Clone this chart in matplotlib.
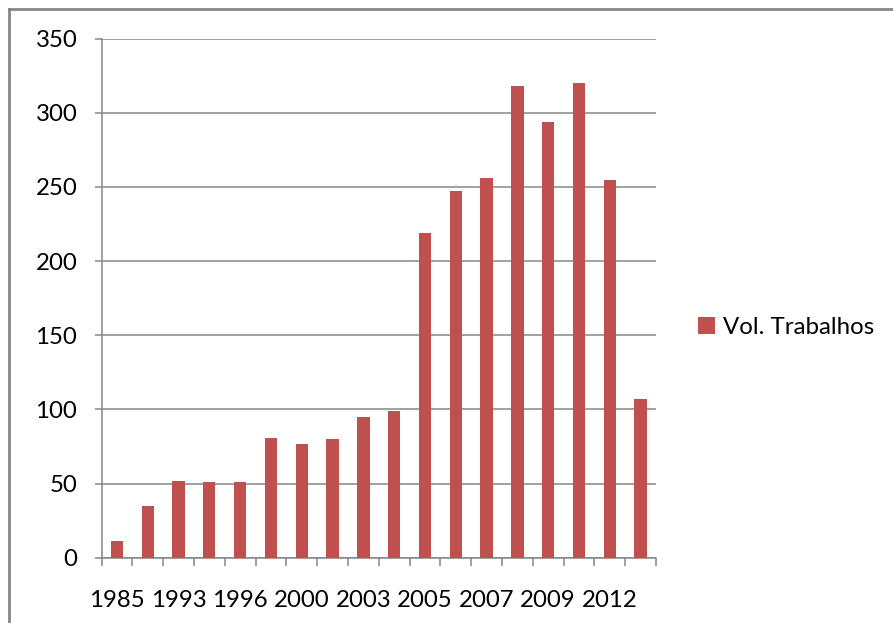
import matplotlib
matplotlib.use("Agg")
import matplotlib.pyplot as plt
from matplotlib.lines import Line2D
import numpy as np

years = ["1985", "1990", "1993", "1995", "1996", "1998", "2000", "2002", "2003",
         "2004", "2005", "2006", "2007", "2008", "2009", "2010", "2012", "2013"]
volumes = [11, 35, 52, 51, 51, 81, 77, 80, 95, 99, 219, 247, 256, 318, 294, 320, 255, 107]
series_name = "Vol. Trabalhos"

BAR_COLOR = "#C0504D"
GRID_COLOR = "#868686"
W, H = 893, 623
FS = 17.3

plt.rcParams["font.family"] = ["Lato", "DejaVu Sans"]

fig = plt.figure(figsize=(W / 100, H / 100), dpi=100)
ax = fig.add_axes([101.5 / W, (H - 557.7) / H, (656 - 101.5) / W, (557.7 - 38.7) / H])

x = np.arange(len(years))
bars = ax.bar(x, volumes, width=0.4, color=BAR_COLOR, label=series_name, zorder=3)

ax.set_xlim(-0.5, len(years) - 0.5)
ax.set_ylim(0, 350)
ax.set_yticks(range(0, 351, 50))
ax.grid(axis="y", color=GRID_COLOR, linewidth=1.1, zorder=0)

# only every other category gets a label, tick marks sit on the boundaries
ax.set_xticks(x[::2])
ax.set_xticklabels(years[::2])
ax.set_xticks(np.arange(-0.5, len(years)), minor=True)
ax.tick_params(axis="x", which="major", length=0, pad=23.5, labelsize=FS)
ax.tick_params(axis="x", which="minor", length=5.8, width=1.1, color=GRID_COLOR, direction="out")
ax.tick_params(axis="y", length=5, width=1.1, color=GRID_COLOR, direction="out", pad=12.5, labelsize=FS)

for side in ("top", "right"):
    ax.spines[side].set_visible(False)
for side in ("left", "bottom"):
    ax.spines[side].set_color(GRID_COLOR)
    ax.spines[side].set_linewidth(1.1)

fig.legend(handles=[bars], labels=[series_name], loc="center left",
           bbox_to_anchor=(698 / W, (H - 327) / H), frameon=False,
           fontsize=FS, handlelength=0.7, handleheight=0.7, handletextpad=0.35,
           borderaxespad=0, borderpad=0)

# chart area border (left and top edges)
fig.add_artist(Line2D([8.5 / W, 8.5 / W], [0, (H - 9) / H], color=GRID_COLOR, linewidth=2))
fig.add_artist(Line2D([8.5 / W, 1], [(H - 9) / H, (H - 9) / H], color=GRID_COLOR, linewidth=2))

fig.savefig("out.png", dpi=100, facecolor="white")
